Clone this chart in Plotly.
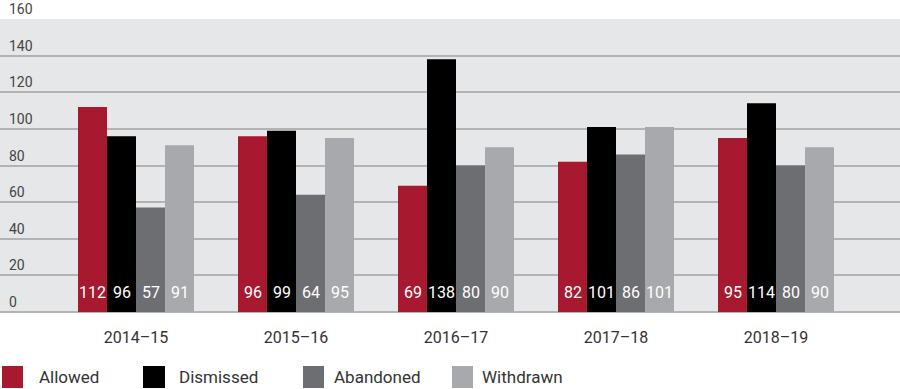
import plotly.graph_objects as go

categories = ["2014–15", "2015–16", "2016–17", "2017–18", "2018–19"]
allowed = [112, 96, 69, 82, 95]
dismissed = [96, 99, 138, 101, 114]
abandoned = [57, 64, 80, 86, 80]
withdrawn = [91, 95, 90, 101, 90]
series_names = ["Allowed", "Dismissed", "Abandoned", "Withdrawn"]
y_ticks = [0, 20, 40, 60, 80, 100, 120, 140, 160]

colors = ["#a6192e", "#000000", "#6d6e71", "#a7a9ac"]
FONT = "Roboto, 'Liberation Sans', sans-serif"
series = [allowed, dismissed, abandoned, withdrawn]

fig = go.Figure()
for name, vals, col in zip(series_names, series, colors):
    fig.add_trace(go.Bar(x=categories, y=vals, name=name, marker=dict(color=col, line=dict(width=0)),
                         showlegend=False, hoverinfo="skip"))

W, H = 900, 389
ml, mr, mt, mb = 0, 0, 19, 77
plot_h = H - mt - mb
bar_w = 160 * (1 - 0.275) / 4

annotations = []
# bar value labels at base
for si, vals in enumerate(series):
    for ci, v in enumerate(vals):
        annotations.append(dict(x=categories[ci], y=0, xref="x", yref="y", text=str(v),
                                showarrow=False, xshift=(si - 1.5) * bar_w, yshift=20,
                                font=dict(family=FONT, size=16, color="white"),
                                xanchor="center", yanchor="middle"))
# y tick labels above gridlines
for t in y_ticks:
    annotations.append(dict(x=0, y=t, xref="paper", yref="y", text=str(t), showarrow=False,
                            xanchor="left", yanchor="bottom", xshift=7, yshift=0,
                            font=dict(family=FONT, size=14, color="#444444")))

# legend
leg_sq = [(2, 23), (143, 165), (303, 324), (452, 473)]
leg_tx = [37, 177, 332, 480]
shapes = []
for (x0, x1), tx, name, col in zip(leg_sq, leg_tx, series_names, colors):
    shapes.append(dict(type="rect", xref="paper", yref="paper",
                       x0=x0 / W, x1=x1 / W,
                       y0=(H - mb - 388) / plot_h, y1=(H - mb - 366) / plot_h,
                       fillcolor=col, line=dict(width=0)))
    annotations.append(dict(x=tx / W, y=(H - mb - 377) / plot_h, xref="paper", yref="paper",
                            text=name, showarrow=False, xanchor="left", yanchor="middle",
                            font=dict(family=FONT, size=17, color="#333333")))

fig.update_layout(
    width=W, height=H,
    margin=dict(l=ml, r=mr, t=mt, b=mb),
    barmode="group", bargap=0.275, bargroupgap=0,
    plot_bgcolor="#e6e7e8", paper_bgcolor="white",
    showlegend=False, hovermode=False,
    annotations=annotations, shapes=shapes,
    xaxis=dict(range=[-0.85, 4.775], showgrid=False, ticks="", showline=False,
               tickfont=dict(family=FONT, size=16, color="#333333"), ticklabelstandoff=14),
    yaxis=dict(range=[0, 160], tickvals=y_ticks, showticklabels=False, showgrid=True,
               gridcolor="#b3b3b3", gridwidth=1.5, zeroline=True, zerolinecolor="#b3b3b3",
               zerolinewidth=1.5, showline=False),
)

fig.write_html(
    "out.html",
    config={"displayModeBar": False, "responsive": False},
    post_script=("document.documentElement.style.margin='0';document.documentElement.style.overflow='hidden';"
                 "document.body.style.margin='0';document.body.style.overflow='hidden';"),
)
